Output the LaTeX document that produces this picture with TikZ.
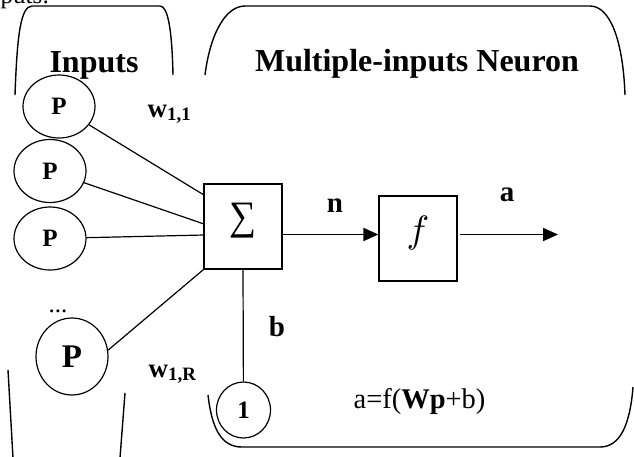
\documentclass[tikz,border=0pt]{standalone}
\usepackage{fontspec}
\usepackage{graphicx}
\setmainfont{Liberation Serif}
\usetikzlibrary{shapes.geometric,arrows.meta}
\newcommand{\fsz}[1]{\fontsize{#1}{#1}\selectfont}

\begin{document}
\begin{tikzpicture}[x=1pt,y=-1pt,line width=1.2pt,
    inp/.style={draw,ellipse,inner sep=0pt,minimum width=72pt,minimum height=63pt,font=\fsz{25}\bfseries},
    blk/.style={draw,rectangle,inner sep=0pt,minimum width=78pt,minimum height=85pt},
    lbl/.style={font=\fsz{29}\bfseries,inner sep=0pt},
    sig/.style={-{Triangle[length=15pt,width=13pt]},line width=1.8pt}]
    \useasboundingbox (0,0) rectangle (634,456);
    % Cut-off line above the figure
    \node[font=\fsz{25},anchor=base west,inner sep=0pt] (cut) at (0,3.5) {puts:};
    % Brackets
    \draw[line width=1.4pt] (15,95) .. controls (17,40) and (20,6) .. (32,6) -- (160,6) .. controls (168,6) and (172,30) .. (173,75);
    \draw[line width=1.4pt] (8,370) -- (13,458);
    \draw[line width=1.4pt] (125,393) -- (120,458);
    \draw[line width=1.4pt] (205,75) .. controls (210,35) and (225,6) .. (245,6) -- (590,6) .. controls (610,6) and (623,40) .. (625,95);
    \draw[line width=1.4pt] (208,395) .. controls (212,430) and (222,447) .. (242,447) -- (600,447) .. controls (620,447) and (630,425) .. (633,387);
    % Titles
    \node[lbl,font=\fsz{32}\bfseries,anchor=base] (tin) at (94,72) {Inputs};
    \node[lbl,font=\fsz{32}\bfseries,anchor=base] (tneu) at (417,71) {Multiple-inputs Neuron};
    % Inputs
    \node[inp] (p1) at (59,106.5) {P};
    \node[inp] (p2) at (50,171) {P};
    \node[inp] (p3) at (50,238.5) {P};
    \node[font=\fsz{25},inner sep=0pt,anchor=base] (dots) at (58,312) {...};
    \node[inp,minimum height=77pt,font=\fsz{33}\bfseries] (p4) at (72,356.5) {P};
    \node[inp,minimum width=54pt,minimum height=56pt] (one) at (243.5,410) {1};
    % Blocks
    \node[blk] (sum) at (243,226.5) {\raisebox{3.5pt}[0pt][0pt]{$\vcenter{\hbox{\resizebox*{27pt}{35pt}{∑}}}$}};
    \node[blk] (fbox) at (418,238.5) {\raisebox{-4pt}[0pt][0pt]{\scalebox{3.8}{$f$}}};
    \coordinate (in1) at (204,195);
    \coordinate (in2) at (204,224);
    \coordinate (in3) at (204,235);
    \coordinate (axis) at (0,234.5);
    \coordinate (out) at (558,234.5);
    % Connectors
    \draw (p1) -- (in1);
    \draw (p2) -- (in2);
    \draw (p3) -- (in3);
    \draw (p4.10) -- (sum.south west);
    \draw (sum.south) -- (one);
    \draw[sig] (sum.east |- axis) -- (fbox.west |- axis);
    \draw[sig] ([xshift=2pt]fbox.east |- axis) -- (out);
    % Labels
    \node[lbl,font=\fsz{27}\bfseries,anchor=base west] (w11) at (147,117) {w\textsubscript{1,1}};
    \node[lbl,font=\fsz{27}\bfseries,anchor=base west] (w1r) at (148,377) {w\textsubscript{1,R}};
    \node[lbl,anchor=base] (ln) at (335,212) {n};
    \node[lbl,anchor=base] (la) at (507,201) {a};
    \node[lbl,anchor=base] (lb) at (277,336) {b};
    \node[font=\fsz{28.5},inner sep=0pt,anchor=base west] (eq) at (353,408) {a=f(\textbf{Wp}+b)};
\end{tikzpicture}
\end{document}
